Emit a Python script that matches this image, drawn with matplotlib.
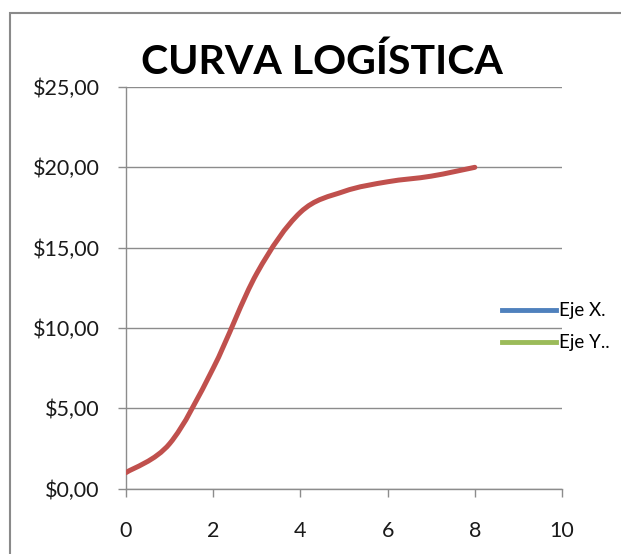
import numpy as np
import matplotlib.pyplot as plt
from matplotlib.path import Path
from matplotlib.patches import PathPatch, Rectangle
from matplotlib.lines import Line2D
from matplotlib.ticker import FuncFormatter

x_vals = [0, 1, 2, 3, 4, 5, 6, 7, 8]
y_vals = [1.0, 2.8, 7.5, 13.4, 17.2, 18.5, 19.1, 19.45, 20.0]
title = "CURVA LOGÍSTICA"
legend_labels = ["Eje X.", "Eje Y.."]

plt.rcParams['font.family'] = ['Lato', 'DejaVu Sans']

fig = plt.figure(figsize=(6.21, 5.54), dpi=100)
ax = fig.add_axes([0.2029, 0.1179, 0.7021, 0.7251])

# excel-like smoothed line: cubic bezier through the points
pts = np.column_stack([x_vals, y_vals])
verts = [pts[0]]
codes = [Path.MOVETO]
n = len(pts)
for i in range(n - 1):
    p0 = pts[i - 1] if i > 0 else pts[i]
    p1 = pts[i]
    p2 = pts[i + 1]
    p3 = pts[i + 2] if i + 2 < n else pts[i + 1]
    c1 = p1 + (p2 - p0) / 6.0
    c2 = p2 - (p3 - p1) / 6.0
    verts += [c1, c2, p2]
    codes += [Path.CURVE4] * 3
ax.add_patch(PathPatch(Path(verts, codes), facecolor='none', edgecolor='#C0504D',
                       lw=3.6, capstyle='round', zorder=3))

ax.set_xlim(0, 10)
ax.set_ylim(0, 25)
ax.set_xticks([0, 2, 4, 6, 8, 10])
ax.set_yticks([0, 5, 10, 15, 20, 25])
ax.yaxis.set_major_formatter(FuncFormatter(lambda v, p: "${:.2f}".format(v).replace('.', ',')))
ax.grid(axis='y', color='#8c8c8c', lw=1)
ax.set_axisbelow(True)
for s in ['top', 'right']:
    ax.spines[s].set_visible(False)
for s in ['left', 'bottom']:
    ax.spines[s].set_color('#8c8c8c')
    ax.spines[s].set_linewidth(1)
ax.tick_params(axis='both', direction='out', length=6, width=1, color='#8c8c8c',
               labelsize=15.5, labelcolor='#1a1a1a')
ax.tick_params(axis='x', pad=17)
ax.tick_params(axis='y', pad=13)

fig.text(0.518, 0.888, title, ha='center', va='center', fontsize=29.5, fontweight='bold')

handles = [Line2D([], [], color='#4F81BD', lw=3.5), Line2D([], [], color='#9BBB59', lw=3.5)]
fig.legend(handles, legend_labels, loc='center left', bbox_to_anchor=(0.808, 0.41),
           frameon=False, fontsize=13.5, handlelength=2.9, handletextpad=0.15,
           labelspacing=0.8, borderaxespad=0, borderpad=0)

# chart frame, cut off at the right and bottom
fig.add_artist(Rectangle((10 / 621, -0.1), 1.2, 1 - 13 / 554 + 0.1, transform=fig.transFigure,
                         fill=False, edgecolor='#8a8a8a', lw=1.5))

fig.savefig('out.png', dpi=100)
